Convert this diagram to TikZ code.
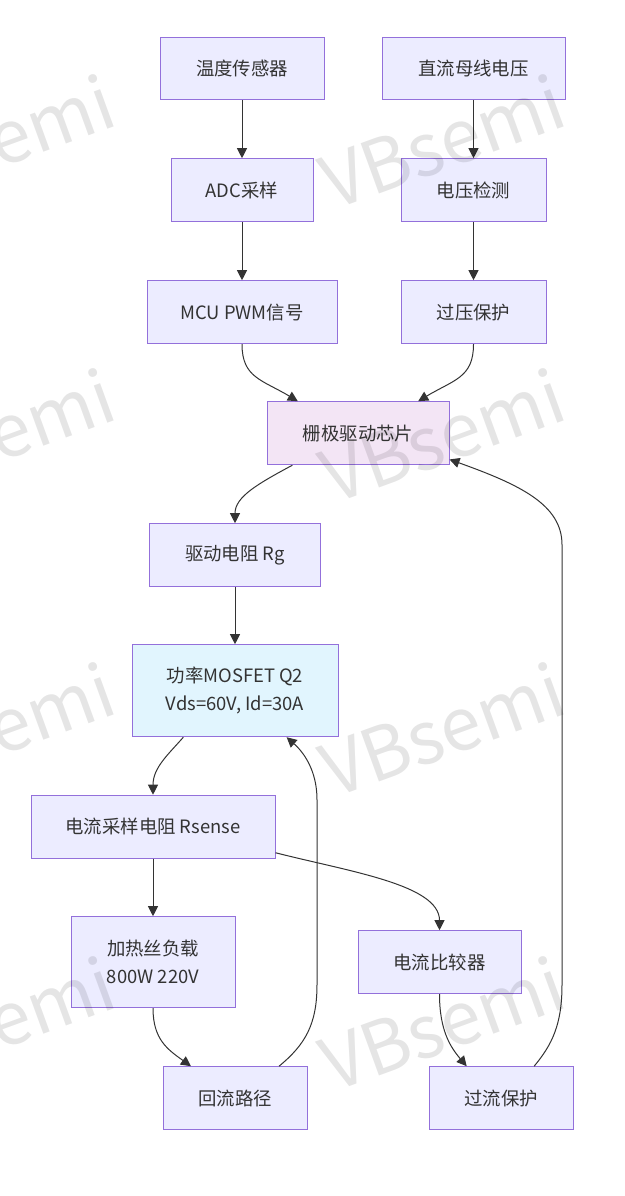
\documentclass[tikz,border=0pt]{standalone}
\usepackage{fontspec}
\setmainfont{Noto Sans CJK SC}
\usetikzlibrary{arrows.meta}
\definecolor{boxfill}{HTML}{ECECFF}
\definecolor{boxline}{HTML}{9370DB}
\definecolor{inkline}{HTML}{333333}
\definecolor{gatefill}{HTML}{F3E5F5}
\definecolor{mosfill}{HTML}{E1F5FE}
\tikzset{
  box/.style={draw=boxline,fill=boxfill,line width=1pt,text=inkline,inner sep=0pt,
    align=center,font=\fontsize{18.4}{28}\selectfont},
  link/.style={draw=inkline,line width=1pt,-{Triangle[length=10pt,width=10pt]}},
  mark text/.style={rotate=20,text=black,opacity=.1,font=\fontsize{73}{73}\selectfont}
}
\begin{document}
\begin{tikzpicture}[x=1pt,y=-1pt]
      \useasboundingbox (0,0.3) rectangle (624,1196.3);
      \clip (0,0.3) rectangle (624,1196.3);

      \node [box,minimum width=164pt,minimum height=62pt] (temp) at (242,69) {温度传感器};
      \node [box,minimum width=183pt,minimum height=62pt] (bus) at (473.5,69) {直流母线电压};
      \node [box,minimum width=142pt,minimum height=63pt] (adc) at (242,190.5) {ADC采样};
      \node [box,minimum width=145pt,minimum height=63pt] (volt) at (473.5,190.5) {电压检测};
      \node [box,minimum width=190pt,minimum height=63pt] (mcu) at (242,312.5) {MCU PWM信号};
      \node [box,minimum width=145pt,minimum height=63pt] (ovp) at (473.5,312.5) {过压保护};
      \node [box,fill=gatefill,minimum width=182pt,minimum height=63pt] (gate) at (358,433.5) {栅极驱动芯片};
      \node [box,minimum width=171pt,minimum height=63pt] (rg) at (235,555.5) {驱动电阻 Rg};
      \node [box,fill=mosfill,minimum width=206pt,minimum height=92pt] (mos) at (235,691) {功率MOSFET Q2\\Vds=60V, Id=30A};
      \node [box,minimum width=244pt,minimum height=63pt] (rs) at (153,827) {电流采样电阻 Rsense};
      \node [box,minimum width=164pt,minimum height=91pt] (load) at (153,962.5) {加热丝负载\\800W 220V};
      \node [box,minimum width=163pt,minimum height=63pt] (cmp) at (439.5,962.5) {电流比较器};
      \node [box,minimum width=144pt,minimum height=63pt] (ret) at (235,1098.5) {回流路径};
      \node [box,minimum width=144pt,minimum height=63pt] (ocp) at (501,1098.5) {过流保护};

      \foreach \from/\to in {temp/adc, bus/volt, adc/mcu, volt/ovp, rg/mos, rs/load}
      \draw [link] (\from) -- (\to);

      \draw [link] (mcu.south) .. controls (242,378) and (262,380) .. (gate.152);
      \draw [link] (ovp.south) .. controls (473.5,378) and (454,380) .. (gate.28);
      \draw [link] (gate.206) .. controls (258,484) and (235,497) .. (rg.north);
      \draw [link] (mos.222) .. controls (168,755) and (153,768) .. (rs.north);
      \draw [link] (rs.-12) .. controls (350,872) and (439.5,885) .. (cmp.north);
      \draw [link] (load.south) .. controls (153,1040) and (168,1050) .. (ret.144);
      \draw [link] (cmp.south) .. controls (439.5,1030) and (450,1047) .. (ocp.137);
      \draw [link] (ret.36) .. controls (305,1045) and (317,1025) .. (317,985)
        -- (317,800) .. controls (317,770) and (303,752) .. (mos.-42);
      \draw [link] (ocp.44) .. controls (552,1045) and (562,1025) .. (562,985)
        -- (562,545) .. controls (562,505) and (520,485) .. (gate.-16);

      % watermark
      \foreach \i/\x/\y in {a/-8/142, b/442/142, c/-8/436, d/442/436, e/-8/730, f/442/730, g/-8/1024, h/442/1024}
      \node [mark text] (wm\i) at (\x,\y) {VBsemi};
    \end{tikzpicture}
\end{document}
